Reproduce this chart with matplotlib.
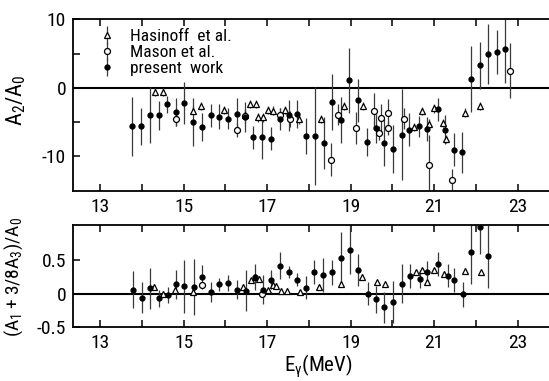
import matplotlib
matplotlib.use('Agg')
import matplotlib.pyplot as plt

plt.rcParams['font.family'] = ['Roboto Condensed', 'Liberation Sans Narrow', 'Roboto', 'DejaVu Sans']

# ---- upper panel: A2/A0 ----
pw_e = [13.77, 13.98, 14.20, 14.40, 14.61, 14.82, 15.02, 15.23, 15.45, 15.65, 15.85,
        16.07, 16.27, 16.48, 16.67, 16.88, 17.10, 17.30, 17.52, 17.72, 17.93, 18.14,
        18.36, 18.55, 18.76, 18.96, 19.18, 19.38, 19.60, 19.80, 20.02, 20.22, 20.40,
        20.63, 20.82, 21.08, 21.25, 21.47, 21.67, 21.88, 22.10, 22.30, 22.50, 22.70]
pw_a2 = [-5.6, -5.6, -4.0, -4.0, -2.4, -3.5, -2.2, -5.0, -5.7, -4.0, -4.2,
         -4.5, -3.8, -4.3, -7.2, -7.2, -7.4, -4.5, -4.0, -3.8, -7.0, -7.0,
         -8.1, -2.0, -4.7, 1.1, -1.8, -7.9, -5.9, -8.0, -8.9, -6.8, -6.1,
         -5.6, -6.0, -3.1, -6.1, -9.0, -9.4, 1.3, 3.3, 5.0, 5.2, 5.7]
pw_a2_err = [4.3, 2.7, 4.1, 2.1, 1.2, 2.1, 3.0, 3.5, 2.1, 1.7, 1.8,
             1.5, 2.3, 2.2, 1.7, 3.2, 1.7, 1.6, 2.3, 2.0, 2.6, 7.1,
             3.8, 4.1, 3.4, 4.8, 3.1, 2.0, 2.1, 3.4, 3.5, 6.6, 2.4,
             1.5, 1.7, 1.7, 2.1, 2.4, 3.0, 4.8, 3.4, 4.4, 3.2, 5.0]

mas_e = [14.82, 16.27, 16.48, 17.30, 17.55, 18.52, 18.70, 19.12, 19.56, 19.67,
         19.72, 19.90, 19.90, 20.28, 20.88, 21.42, 22.82]
mas_a2 = [-4.5, -6.1, -4.1, -4.0, -4.5, -10.5, -3.9, -5.85, -3.3, -6.6,
          -4.4, -3.6, -5.8, -4.5, -11.2, -13.4, 2.5]
mas_a2_err = [1.0, 1.0, 1.0, 1.0, 1.2, 2.4, 1.5, 2.4, 2.5, 1.0,
              2.0, 2.0, 1.0, 1.5, 4.4, 1.5, 4.0]

has_e = [14.32, 14.51, 15.23, 15.42, 15.97, 16.48, 16.59, 16.73, 16.79, 16.91,
         17.01, 17.15, 17.43, 17.77, 18.28, 18.85, 19.30, 20.52, 20.71, 20.88,
         20.99, 21.21, 21.28, 21.73, 22.10]
has_a2 = [-0.6, -0.6, -3.3, -2.6, -3.2, -3.9, -2.4, -2.4, -4.3, -4.3,
          -3.2, -3.3, -3.2, -4.6, -4.5, -2.6, -2.6, -5.7, -3.4, -5.2,
          -3.0, -5.1, -7.4, -3.6, -2.6]

# ---- lower panel: (A1 + 3/8 A3)/A0 ----
pw_e2 = [13.78, 14.00, 14.20, 14.41, 14.62, 14.82, 15.02, 15.25, 15.43, 15.65, 15.85,
         16.05, 16.27, 16.49, 16.71, 16.91, 17.10, 17.30, 17.53, 17.72, 17.93, 18.13,
         18.34, 18.56, 18.77, 18.98, 19.18, 19.41, 19.60, 19.80, 20.02, 20.22, 20.43,
         20.65, 20.83, 21.08, 21.32, 21.48, 21.69, 21.89, 22.10, 22.30]
pw_a13 = [0.06, -0.06, 0.08, -0.07, -0.02, 0.14, 0.11, 0.10, 0.25, 0.02, 0.14,
          0.16, 0.06, 0.04, 0.25, 0.06, 0.21, 0.42, 0.33, 0.21, 0.09, 0.32,
          0.28, 0.32, 0.54, 0.65, 0.35, 0.00, -0.09, -0.21, -0.13, 0.15, 0.27,
          0.22, 0.32, 0.45, 0.27, 0.20, -0.01, 0.62, 1.00, 0.56]
pw_a13_err = [0.28, 0.23, 0.31, 0.13, 0.12, 0.22, 0.40, 0.42, 0.18, 0.15, 0.10,
              0.12, 0.14, 0.31, 0.20, 0.22, 0.14, 0.20, 0.09, 0.10, 0.18, 0.18,
              0.26, 0.19, 0.38, 0.36, 0.24, 0.18, 0.20, 0.23, 0.32, 0.29, 0.18,
              0.13, 0.17, 0.18, 0.17, 0.18, 0.19, 0.48, 0.40, 0.48]

has_e2 = [14.28, 14.51, 14.79, 15.23, 16.43, 16.61, 16.71, 16.81, 17.01, 17.13,
          17.22, 17.34, 17.47, 17.78, 18.25, 18.77, 19.27, 19.63, 19.83, 20.56,
          20.72, 20.83, 20.99, 21.23, 21.73, 22.12]
has_a13 = [0.10, 0.00, 0.06, 0.02, 0.10, 0.20, 0.25, 0.22, 0.05, 0.13,
           0.12, 0.04, 0.04, 0.02, 0.10, 0.14, 0.25, 0.17, 0.14, 0.32,
           0.35, 0.17, 0.35, 0.30, 0.34, 0.32]

mas_e2 = [15.43, 16.87]
mas_a13 = [0.13, 0.00]

mev_ticks = list(range(13, 24))
tick_labels = [str(t) if t % 2 else '' for t in mev_ticks]

bar_kw = dict(ecolor='#3a3a3a', elinewidth=0.9, capsize=0, linestyle='none')
filled_kw = dict(fmt='o', ms=3.5, mfc='black', mec='black', **bar_kw)
tri_kw = dict(fmt='^', ms=4.5, mfc='white', mec='black', mew=0.9, **bar_kw)
circ_kw = dict(fmt='o', ms=4.3, mfc='white', mec='black', mew=0.9, **bar_kw)

fig = plt.figure(figsize=(5.49, 3.81), dpi=100)
ax1 = fig.add_axes([0.133, 0.4995, 0.867, 0.4495])
ax2 = fig.add_axes([0.133, 0.1425, 0.867, 0.2665])

for ax in (ax1, ax2):
    ax.set_xlim(12.35, 23.75)
    ax.spines['right'].set_visible(False)
    for s in ('left', 'top', 'bottom'):
        ax.spines[s].set_linewidth(1.3)
    ax.axhline(0, color='black', lw=1.5, zorder=1)
    ax.set_xticks(mev_ticks)
    ax.set_xticklabels(tick_labels)
    ax.tick_params(axis='both', direction='in', top=True, bottom=True,
                   length=5, width=1.1, labelsize=14)
    ax.tick_params(axis='x', pad=5)
    ax.tick_params(axis='y', pad=5)

# upper panel
h_has = ax1.errorbar(has_e, has_a2, yerr=[0.6] * len(has_e), **tri_kw)
h_mas = ax1.errorbar(mas_e, mas_a2, yerr=mas_a2_err, **circ_kw)
h_pw = ax1.errorbar(pw_e, pw_a2, yerr=pw_a2_err, **filled_kw)
ax1.set_ylim(-15, 10)
ax1.set_yticks([-10, -5, 0, 5, 10])
ax1.set_yticklabels(['-10', '', '0', '', '10'])
ax1.set_ylabel(r'$\mathregular{A_2/A_0}$', fontsize=16)
ax1.yaxis.set_label_coords(-0.095, 0.53)
ax1.legend([h_has, h_mas, h_pw], ['Hasinoff  et al.', 'Mason et al.', 'present  work'],
           loc='upper left', bbox_to_anchor=(0.035, 1.0), frameon=False,
           fontsize=12.5, handlelength=0.9, handletextpad=0.9, labelspacing=0.05,
           borderaxespad=0.15)

# lower panel
ax2.errorbar(has_e2, has_a13, yerr=[0.04] * len(has_e2), **tri_kw)
ax2.errorbar(mas_e2, mas_a13, yerr=[0.04] * len(mas_e2), **circ_kw)
ax2.errorbar(pw_e2, pw_a13, yerr=pw_a13_err, **filled_kw)
ax2.set_ylim(-0.5, 1.03)
ax2.set_yticks([-0.5, 0, 0.5])
ax2.set_yticklabels(['-0.5', '0', '0.5'])
ax2.set_ylabel(r'$\mathregular{(A_1+3/8A_3)/A_0}$', fontsize=14)
ax2.yaxis.set_label_coords(-0.1, 0.49)
ax2.set_xlabel(r'$\mathregular{E_{\gamma}(MeV)}$', fontsize=15)
ax2.xaxis.set_label_coords(0.515, -0.25)

fig.savefig('out.png', dpi=100)
